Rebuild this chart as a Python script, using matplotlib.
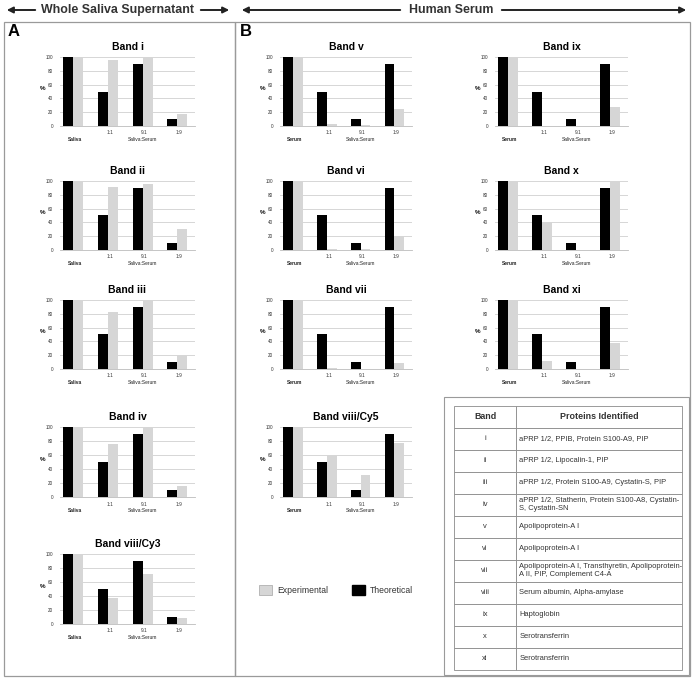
import numpy as np
import matplotlib
matplotlib.use("Agg")
import matplotlib.pyplot as plt
from matplotlib.patches import Rectangle, FancyArrowPatch, Patch
from matplotlib.transforms import blended_transform_factory

plt.rcParams['font.family'] = ['Liberation Sans', 'DejaVu Sans']

W, H = 692, 678

# ---- data ----
saliva_ratios = ["", "1:1", "9:1", "1:9"]
serum_ratios = ["", "1:1", "9:1", "1:9"]
theo_saliva = [100, 50, 90, 10]
theo_serum = [100, 50, 10, 90]

band_i = [100, 95, 100, 18]
band_ii = [100, 91, 96, 31]
band_iii = [100, 83, 100, 20]
band_iv = [100, 76, 100, 16]
band_viii_cy3 = [100, 37, 71, 8]
band_v = [100, 3, 2, 25]
band_vi = [100, 2, 1, 20]
band_vii = [100, 1, 0, 9]
band_viii_cy5 = [100, 60, 32, 77]
band_ix = [100, 0, 0, 28]
band_x = [100, 40, 0, 100]
band_xi = [100, 11, 0, 38]

table_bands = ["i", "ii", "iii", "iv", "v", "vi", "vii", "viii", "ix", "x", "xi"]
table_proteins = [
    "aPRP 1/2, PPIB, Protein S100-A9, PIP",
    "aPRP 1/2, Lipocalin-1, PIP",
    "aPRP 1/2, Protein S100-A9, Cystatin-S, PIP",
    "aPRP 1/2, Statherin, Protein S100-A8, Cystatin-\nS, Cystatin-SN",
    "Apolipoprotein-A I",
    "Apolipoprotein-A I",
    "Apolipoprotein-A I, Transthyretin, Apolipoprotein-\nA II, PIP, Complement C4-A",
    "Serum albumin, Alpha-amylase",
    "Haptoglobin",
    "Serotransferrin",
    "Serotransferrin",
]

BLACK = "#000000"
GREY = "#d6d6d6"


def fx(x):
    return x / W


def fy(y):
    return 1 - y / H


def px_axes(fig, x0, y0, x1, y1):
    return fig.add_axes([fx(x0), fy(y1), (x1 - x0) / W, (y1 - y0) / H])


def band_chart(fig, rect, title, theo, expe, ratios, first_name):
    ax = px_axes(fig, *rect)
    pos = np.arange(len(theo))
    w = 0.29
    ax.bar(pos - w / 2, theo, w, color=BLACK, zorder=3)
    ax.bar(pos + w / 2, expe, w, color=GREY, zorder=3)
    ax.set_xlim(-0.39, 3.52)
    ax.set_ylim(0, 100)
    ax.set_yticks(range(0, 101, 20))
    ax.tick_params(axis='y', labelsize=3.3, length=0, pad=5, labelcolor="#333333")
    ax.set_xticks([])
    ax.grid(axis='y', color="#d0d0d0", lw=0.6, zorder=0)
    for s in ["top", "right", "left"]:
        ax.spines[s].set_visible(False)
    ax.spines["bottom"].set_color("#bbbbbb")
    ax.spines["bottom"].set_linewidth(0.6)
    tr = blended_transform_factory(ax.transData, ax.transAxes)
    for p, lab in zip(pos, ratios):
        ax.text(p + 0.05, -0.10, lab, transform=tr, ha='center', va='center',
                fontsize=3.4, color="#333333")
    ax.text(0.05, -0.19, first_name, transform=tr, ha='center', va='center',
            fontsize=3.5, color="#222222", fontweight='bold')
    ax.text(2.0, -0.19, "Saliva:Serum", transform=tr, ha='center', va='center',
            fontsize=3.5, color="#222222")
    ax.set_ylabel("%", rotation=0, fontsize=4.5, fontweight='bold', labelpad=0)
    ax.yaxis.set_label_coords(-0.13, 0.5)
    ax.set_title(title, fontsize=7.5, fontweight='bold', pad=5)
    return ax


fig = plt.figure(figsize=(W / 100, H / 100), dpi=100)

# panel boxes
fig.add_artist(Rectangle((fx(4), fy(676)), (235 - 4) / W, (676 - 22) / H,
                         transform=fig.transFigure, fill=False, ec="#9a9a9a", lw=0.9))
fig.add_artist(Rectangle((fx(235), fy(676)), (690 - 235) / W, (676 - 22) / H,
                         transform=fig.transFigure, fill=False, ec="#9a9a9a", lw=0.9))
fig.add_artist(Rectangle((fx(444), fy(675)), (689 - 444) / W, (675 - 397) / H,
                         transform=fig.transFigure, fill=False, ec="#9a9a9a", lw=0.8))

# header arrows
hfont = dict(fontsize=8.9, fontweight='bold', color="#333333")
fig.text(fx(117), fy(10), "Whole Saliva Supernatant", ha='center', va='center', **hfont)
fig.text(fx(451), fy(10), "Human Serum", ha='center', va='center', **hfont)
for a, b in [((38, 10), (4, 10)), ((198, 10), (232, 10)),
             ((403, 10), (239, 10)), ((499, 10), (689, 10))]:
    fig.add_artist(FancyArrowPatch((fx(a[0]), fy(a[1])), (fx(b[0]), fy(b[1])),
                                   transform=fig.transFigure, arrowstyle='-|>',
                                   mutation_scale=9, lw=1.4, color="#222222"))

fig.text(fx(8), fy(31), "A", fontsize=12, fontweight='bold', ha='left', va='center')
fig.text(fx(240), fy(31), "B", fontsize=12, fontweight='bold', ha='left', va='center')

rows = [(57, 126), (181, 250), (300, 369), (427, 497), (554, 624)]
colA = (60, 195)
colB1 = (280, 412)
colB2 = (495, 628)

saliva_sets = [("Band i", band_i), ("Band ii", band_ii), ("Band iii", band_iii),
               ("Band iv", band_iv), ("Band viii/Cy3", band_viii_cy3)]
for (name, vals), (y0, y1) in zip(saliva_sets, rows):
    band_chart(fig, (colA[0], y0, colA[1], y1), name, theo_saliva, vals,
               saliva_ratios, "Saliva")

serum_b1 = [("Band v", band_v), ("Band vi", band_vi), ("Band vii", band_vii),
            ("Band viii/Cy5", band_viii_cy5)]
for (name, vals), (y0, y1) in zip(serum_b1, rows):
    band_chart(fig, (colB1[0], y0, colB1[1], y1), name, theo_serum, vals,
               serum_ratios, "Serum")

serum_b2 = [("Band ix", band_ix), ("Band x", band_x), ("Band xi", band_xi)]
for (name, vals), (y0, y1) in zip(serum_b2, rows):
    band_chart(fig, (colB2[0], y0, colB2[1], y1), name, theo_serum, vals,
               serum_ratios, "Serum")

# legend
handles = [Patch(fc=GREY, ec="#b0b0b0", lw=0.6), Patch(fc=BLACK, ec=BLACK)]
fig.legend(handles, ["Experimental", "Theoretical"], loc='center',
           bbox_to_anchor=(fx(336), fy(590)), ncol=2, frameon=False,
           fontsize=6.2, handlelength=1.5, handleheight=1.5,
           handletextpad=0.6, columnspacing=2.8, labelcolor="#333333")

# table
tax = px_axes(fig, 454, 406, 682, 670)
tax.axis('off')
cells = [[b, p] for b, p in zip(table_bands, table_proteins)]
tbl = tax.table(cellText=cells, colLabels=["Band", "Proteins Identified"],
                colWidths=[0.272, 0.728], bbox=[0, 0, 1, 1], cellLoc='left')
tbl.auto_set_font_size(False)
for (r, c), cell in tbl.get_celld().items():
    cell.set_edgecolor("#8a8a8a")
    cell.set_linewidth(0.6)
    txt = cell.get_text()
    txt.set_fontsize(5.4)
    txt.set_color("#333333")
    if r == 0:
        txt.set_fontweight('bold')
        txt.set_fontsize(6.4)
        txt.set_ha('center')
        cell._loc = 'center'
    elif c == 0:
        txt.set_ha('center')
        cell._loc = 'center'
    else:
        cell.PAD = 0.02

fig.savefig("out.png", dpi=100)
